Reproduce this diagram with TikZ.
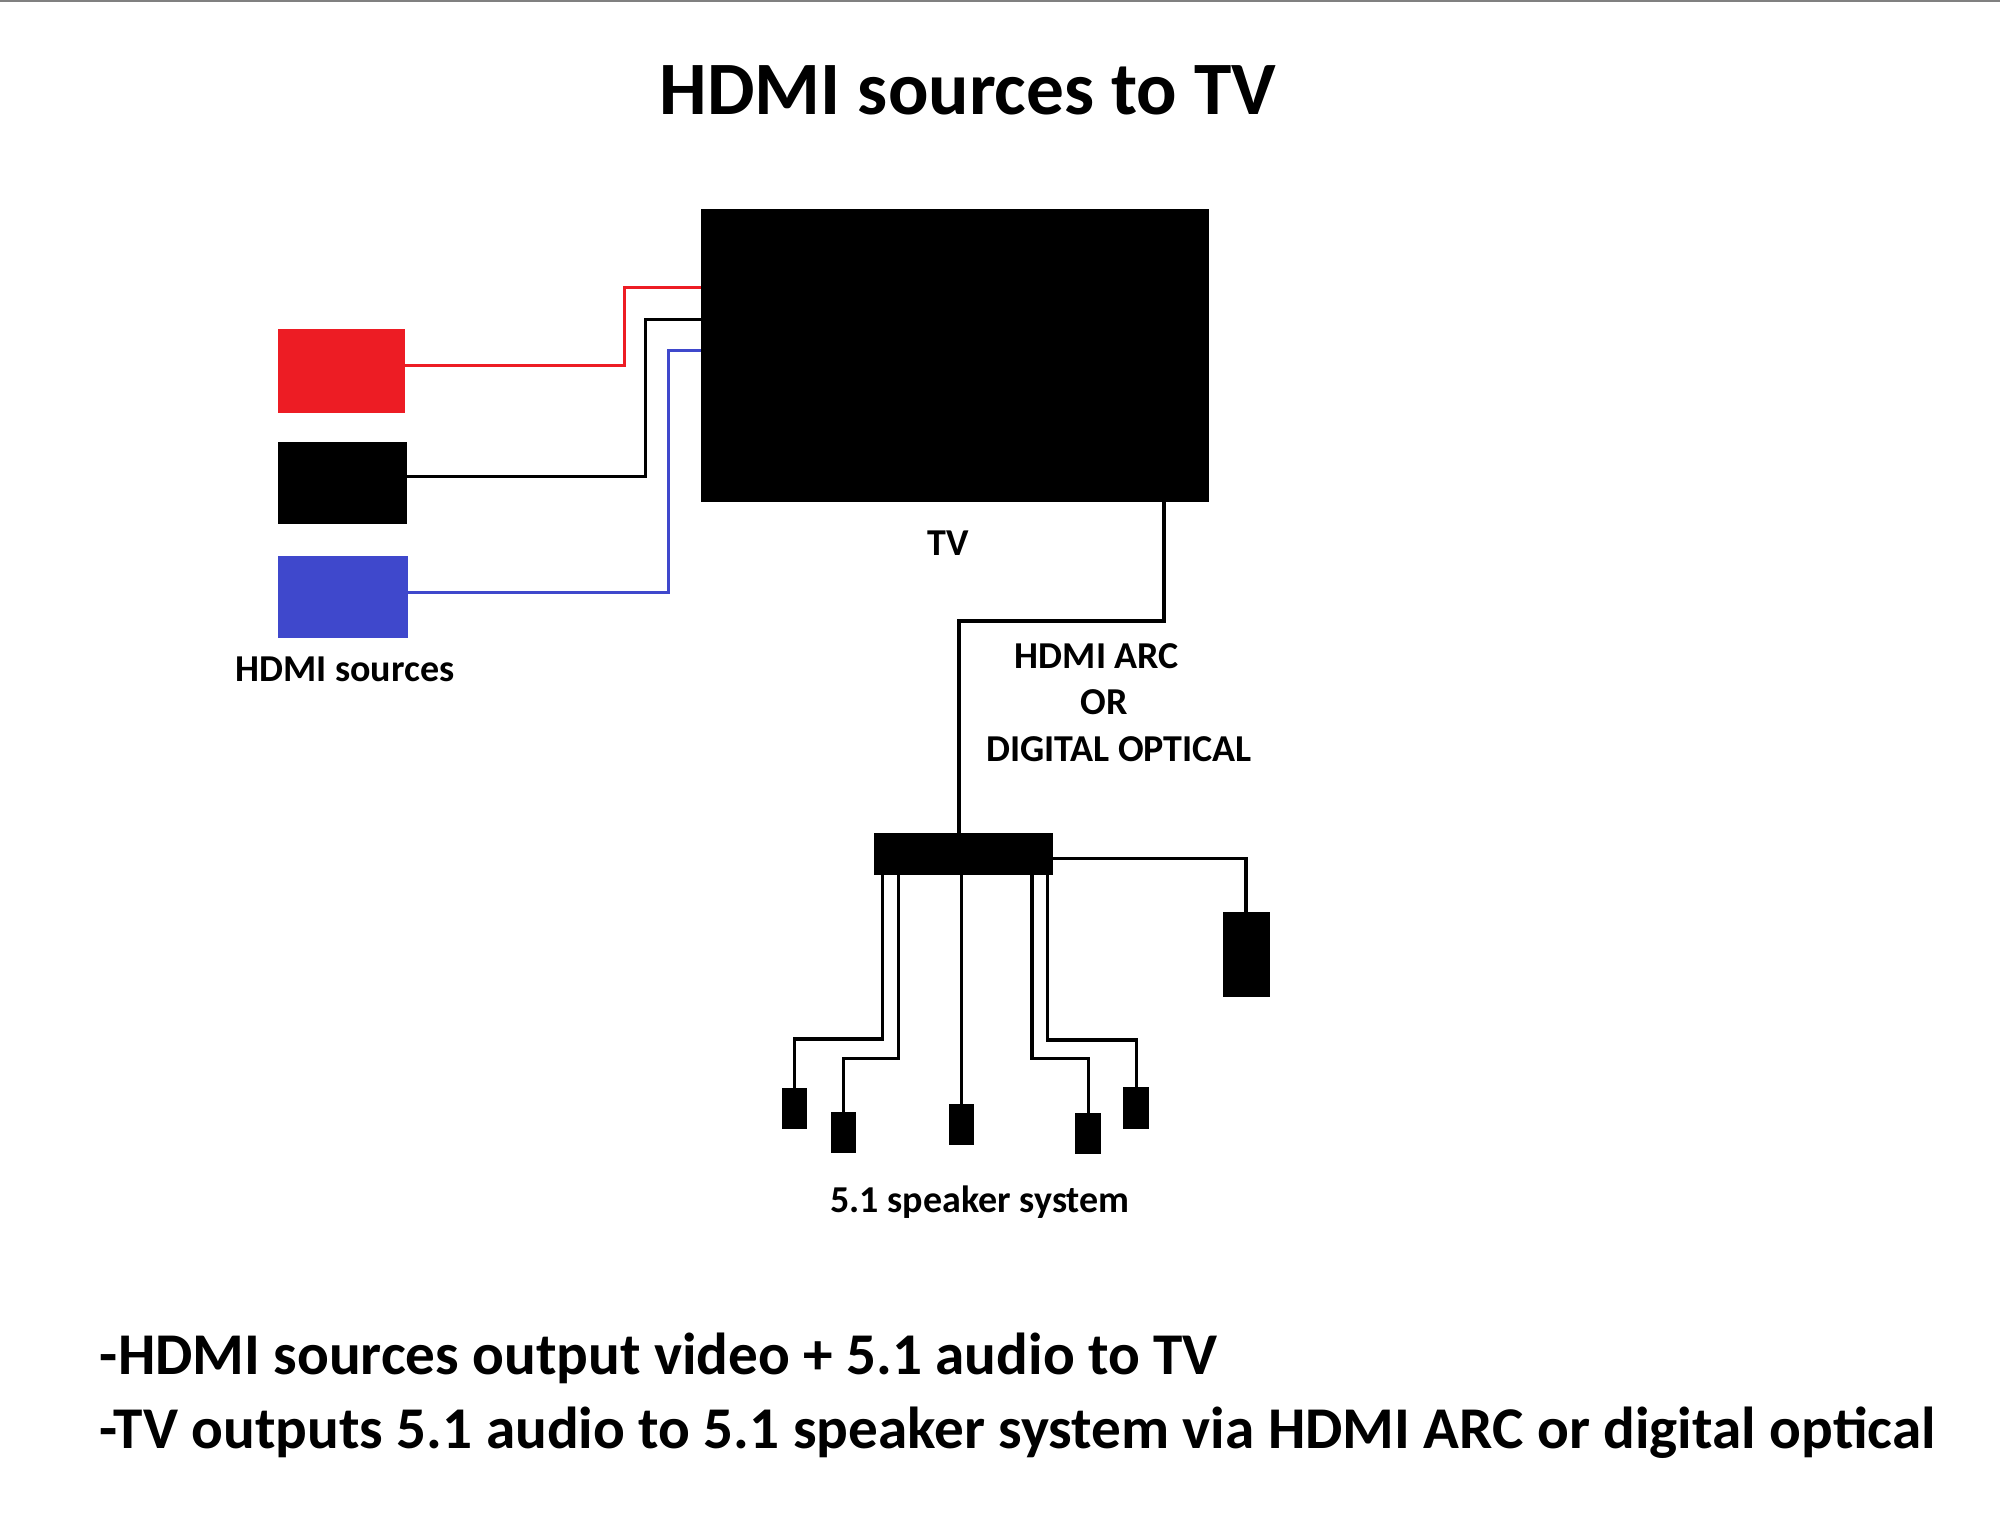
\documentclass[tikz,border=0pt]{standalone}
\usepackage{fontspec}
\setmainfont{Carlito}
\usetikzlibrary{calc}
\definecolor{srcred}{RGB}{237,28,36}
\definecolor{srcblue}{RGB}{63,72,204}
\definecolor{framegray}{RGB}{128,128,128}
\tikzset{
  blk/.style={rectangle, fill=#1, draw=none, inner sep=0pt, outer sep=0pt},
  srcwire/.style={draw=#1, line width=1.5pt},
  audiowire/.style={draw=black, line width=1.7pt},
  lbl/.style={font=\bfseries\fontsize{19pt}{23pt}\selectfont, inner sep=0pt, anchor=base},
  note/.style={font=\bfseries\fontsize{29.6pt}{36pt}\selectfont, inner sep=0pt, anchor=base west},
}
\begin{document}
\begin{tikzpicture}[x=0.5pt,y=-0.5pt]
\useasboundingbox (0,0) rectangle (2000,1527);
\fill[white] (0,0) rectangle (2000,1527);
\draw[framegray, line width=1pt] (0,1) -- (2000,1);

% title
\node[lbl, font=\bfseries\fontsize{37.7pt}{45pt}\selectfont] (title) at (968,114) {HDMI sources to TV};

% TV and sources
\node[blk=black, minimum width=254pt, minimum height=146.5pt] (tv) at (955,355.5) {};
\node[blk=srcred, minimum width=63.5pt, minimum height=42pt] (red) at (341.5,371) {};
\node[blk=black, minimum width=64.35pt, minimum height=41pt] (blk) at (342.3,483) {};
\node[blk=srcblue, minimum width=65pt, minimum height=41pt] (blue) at (343,597) {};

\draw[srcwire=srcred] ([yshift=2.65pt]red.east) -| (624,287) -- ([yshift=34.25pt]tv.west);
\draw[srcwire=black] ([yshift=3.15pt]blk.east) -| (645,319) -- ([yshift=18.25pt]tv.west);
\draw[srcwire=srcblue] ([yshift=2.5pt]blue.east) -| (668.5,350) -- ([yshift=2.75pt]tv.west);

\node[lbl] (srclbl) at (345,681.7) {HDMI sources};
\node[lbl] (tvlbl) at (948,555) {TV};

% hub and speakers
\node[blk=black, minimum width=89.5pt, minimum height=20.85pt] (hub) at (963.9,854.2) {};
\node[blk=black, minimum width=23.5pt, minimum height=42.2pt] (sub) at (1246,954.5) {};
\node[blk=black, minimum width=12.75pt, minimum height=20.5pt] (s1) at (794.5,1108.8) {};
\node[blk=black, minimum width=12.9pt, minimum height=20.5pt] (s2) at (843.5,1132.8) {};
\node[blk=black, minimum width=12.75pt, minimum height=20.35pt] (s3) at (961.45,1124.65) {};
\node[blk=black, minimum width=12.75pt, minimum height=20.35pt] (s4) at (1088.2,1133.65) {};
\node[blk=black, minimum width=12.9pt, minimum height=20.7pt] (s5) at (1136.2,1108) {};

\draw[audiowire] ([xshift=104.5pt]tv.south) |- (959,621) -- ([xshift=-2.45pt]hub.north);
\draw[audiowire] ([yshift=-2pt]hub.east) -| (sub.north);
\draw[audiowire] ([xshift=-40.85pt]hub.south) -- (882.2,1039) -| (s1.north);
\draw[audiowire] ([xshift=-32.75pt]hub.south) -- (898.4,1058.3) -| (s2.north);
\draw[audiowire] (hub.south -| s3.north) -- (s3.north);
\draw[audiowire] ([xshift=34.05pt]hub.south) -- (1032,1058.3) -| (s4.north);
\draw[audiowire] ([xshift=41.8pt]hub.south) -- (1047.5,1040) -| (s5.north);

\node[lbl] (arc) at (1097,668) {HDMI ARC};
\node[lbl] (or) at (1104,714) {OR};
\node[lbl] (opt) at (1119,761) {DIGITAL OPTICAL};
\node[lbl] (spk) at (980,1212.7) {5.1 speaker system};

% notes
\node[note] (note1) at (99.5,1374) {-HDMI sources output video + 5.1 audio to TV};
\node[note] (note2) at (99.5,1448) {-TV outputs 5.1 audio to 5.1 speaker system via HDMI ARC or digital optical};
\end{tikzpicture}
\end{document}
